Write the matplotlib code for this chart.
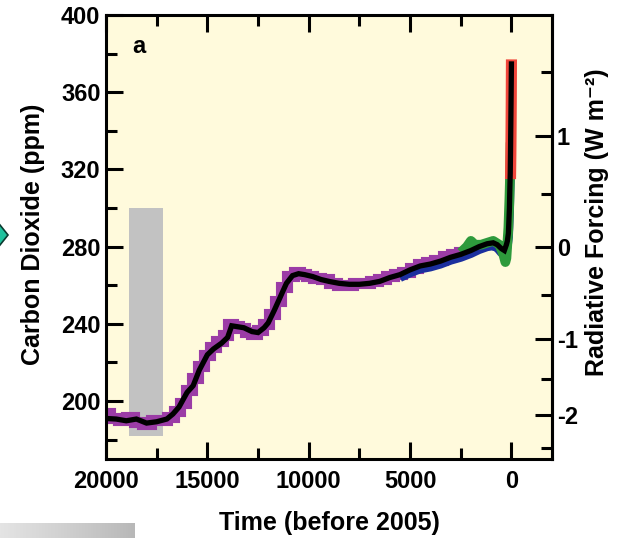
import numpy as np
import matplotlib
matplotlib.use("Agg")
import matplotlib.pyplot as plt
from matplotlib.ticker import FixedLocator, MultipleLocator, FixedFormatter
from matplotlib.patches import Rectangle, Polygon
from matplotlib.colors import LinearSegmentedColormap

plt.rcParams['font.family'] = ['Liberation Sans', 'DejaVu Sans']
plt.rcParams['font.weight'] = 'bold'
plt.rcParams['axes.unicode_minus'] = False

# ---------------- data ----------------
# composite CO2 record (years before 2005, ppm)
time_composite = [20000, 19500, 19000, 18500, 18000, 17500, 17000, 16700, 16400, 16000,
                  15700, 15400, 15200, 15000, 14700, 14300, 14000, 13800, 13500, 13200,
                  12800, 12500, 12200, 12000, 11700, 11400, 11100, 10800, 10500, 10200,
                  9800, 9400, 9000, 8500, 8000, 7500, 7000, 6500, 6000, 5500,
                  5000, 4500, 4000, 3500, 3000, 2500, 2000, 1600, 1200, 900,
                  700, 500, 350, 250, 200, 150, 120, 100, 80, 60,
                  45, 30, 15, 0]
co2_composite = [191, 190.7, 189.8, 190.7, 188.6, 189.3, 190.7, 193.3, 196.9, 204.5,
                 208, 216, 220, 224, 227, 230, 233, 239, 238.5, 238,
                 236, 235.5, 238, 240.5, 247, 254, 261, 265, 266, 265.5,
                 264.5, 263, 262, 261, 260.5, 260.5, 261, 262, 264, 265.5,
                 268, 270, 271, 272.5, 274.5, 276, 278, 280, 281.5, 282,
                 281, 279, 278, 281, 283, 287, 295, 300, 310, 318,
                 330, 345, 360, 376]

# ice-core record (purple)
time_ice = [20000, 19600, 19200, 18800, 18400, 18000, 17600, 17200, 16800, 16500,
            16200, 15900, 15600, 15300, 15000, 14700, 14400, 14100, 13900, 13600,
            13300, 13000, 12700, 12400, 12100, 11800, 11500, 11200, 10900, 10600,
            10300, 10000, 9600, 9200, 8800, 8400, 8000, 7600, 7200, 6800,
            6400, 6000, 5600, 5200, 4800, 4400, 4000, 3600, 3200, 2800, 2400]
co2_ice = [194, 191, 190, 192, 189, 188, 190, 190, 192, 195,
           199, 206, 212, 218, 224, 228, 231, 234, 240, 239,
           238, 236, 235, 237, 240, 245, 252, 259, 265, 267,
           266, 265, 264, 263, 261, 260, 260, 261, 261, 262,
           263, 265, 266, 267, 269, 271, 272, 273, 275, 276, 277]

# Law Dome / other high-resolution record (blue)
time_blue = [5500, 5000, 4500, 4000, 3500, 3000, 2500, 2000, 1600, 1200,
             900, 700, 500, 350, 250, 200, 150, 120, 100, 80, 60]
co2_blue = [264, 266.5, 268.5, 269.5, 271, 273, 274.5, 276.5, 278.5, 280,
            280.5, 279.5, 277, 276, 278.5, 281, 285, 293, 298, 308, 315]

# other ice-core record (green)
time_green = [2500, 2200, 2000, 1800, 1500, 1200, 900, 600, 400, 300,
              250, 200, 150, 100, 60, 40]
co2_green = [277, 280, 283, 281, 281, 282, 283, 281, 276, 272,
             274, 282, 290, 305, 320, 334]

# atmospheric measurements (red)
time_red = [47, 40, 30, 20, 10, 0]
co2_red = [315, 320, 328, 340, 355, 377]

# grey bar (glacial range)
grey_time = [18860, 17200]
grey_co2 = [182, 300]

x_ticks = [20000, 15000, 10000, 5000, 0]
x_ticklabels = ['20000', '15000', '10000', '5000', '0']
y_ticks = [200, 240, 280, 320, 360, 400]
rf_ticks = [-2, -1, 0, 1]
rf_minor = [-2.5, -1.5, -0.5, 0.5, 1.5]

# ---------------- figure ----------------
fig = plt.figure(figsize=(6.2, 5.38), dpi=100)
ax = fig.add_axes([106/620, 1-459/538, 446/620, 444/538])
ax.set_facecolor('#fffadc')

ax.add_patch(Rectangle((grey_time[1], grey_co2[0]), grey_time[0]-grey_time[1],
                       grey_co2[1]-grey_co2[0], facecolor='#c2c2c2', edgecolor='none', zorder=1))

ax.plot(time_ice, co2_ice, color='#9b3ca6', lw=8, drawstyle='steps-mid',
        solid_capstyle='butt', solid_joinstyle='miter', zorder=2)
ax.plot(time_blue, co2_blue, color='#1b2f9e', lw=6.5, solid_capstyle='butt', zorder=3)
ax.plot(time_green, co2_green, color='#2e9a3c', lw=7, solid_capstyle='butt', zorder=4)
ax.plot(time_red, co2_red, color='#f0463a', lw=8, solid_capstyle='butt', zorder=5)
ax.plot(time_composite, co2_composite, color='black', lw=3.8,
        solid_capstyle='butt', solid_joinstyle='miter', zorder=6)

ax.set_xlim(20000, -2000)
ax.set_ylim(170, 400)

ax.xaxis.set_major_locator(FixedLocator(x_ticks))
ax.xaxis.set_major_formatter(FixedFormatter(x_ticklabels))
ax.xaxis.set_minor_locator(MultipleLocator(2500))
ax.yaxis.set_major_locator(FixedLocator(y_ticks))
ax.yaxis.set_minor_locator(MultipleLocator(20))

ax.tick_params(which='both', direction='in', top=True, right=False, width=2.2,
               labelsize=17)
ax.tick_params(which='major', length=12.5)
ax.tick_params(which='minor', length=8)
ax.tick_params(axis='x', which='major', pad=8)
ax.tick_params(axis='y', which='major', pad=4)
for s in ax.spines.values():
    s.set_linewidth(2.2)

ax.text(18370, 380.4, 'a', ha='center', va='baseline', fontsize=17, fontweight='bold')

sec = ax.secondary_yaxis('right', functions=(lambda c: 5.35*np.log(np.asarray(c, float)/280.0),
                                             lambda f: 280.0*np.exp(np.asarray(f, float)/5.35)))
sec.set_yticks(rf_ticks)
sec.set_yticklabels([str(v) for v in rf_ticks])
sec.yaxis.set_minor_locator(FixedLocator(rf_minor))
sec.tick_params(which='both', direction='in', width=2.2, labelsize=17, pad=3.5)
sec.tick_params(which='major', length=12.5)
sec.tick_params(which='minor', length=8)
sec.spines['right'].set_linewidth(2.2)

ax.set_xlabel('Time (before 2005)', fontsize=18, fontweight='bold')
ax.xaxis.set_label_coords(0.5, -0.117)
ax.set_ylabel('Carbon Dioxide (ppm)', fontsize=18, fontweight='bold', va='center')
ax.yaxis.set_label_coords(-0.164, 0.505)
fig.text(597/620, 1-222/538, 'Radiative Forcing (W m⁻²)', rotation=90,
         ha='center', va='center', fontsize=18, fontweight='bold')

# decorations from the original slide
fig.patches.append(Polygon([[-9/620, 1-235/538], [0, 1-225/538], [8/620, 1-235/538],
                            [0, 1-245/538]], closed=True, transform=fig.transFigure,
                           facecolor='#20c29e', edgecolor='#0b3b30', lw=1.2, figure=fig))
gax = fig.add_axes([0, 0, 135/620, 15/538])
grad = np.linspace(0, 1, 100)[None, :]
gcmap = LinearSegmentedColormap.from_list('g', ['#e4e4e4', '#cfcfcf', '#b8b8b8'])
gax.imshow(grad, aspect='auto', cmap=gcmap, extent=[0, 1, 0, 1])
gax.axis('off')

fig.savefig('out.png', dpi=100)
